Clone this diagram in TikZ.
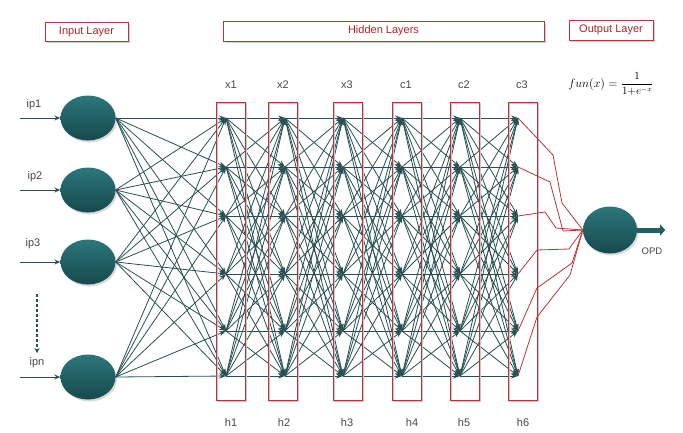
\documentclass[tikz,border=0pt]{standalone}
\usepackage{fontspec}
\setmainfont{Liberation Sans}
\usetikzlibrary{arrows.meta,shadows,shapes.geometric}
\definecolor{linecol}{RGB}{40,80,83}
\definecolor{boxred}{RGB}{190,52,52}
\definecolor{txtred}{RGB}{172,38,38}
\definecolor{lblcol}{RGB}{70,70,70}
\definecolor{tealtop}{RGB}{44,118,122}
\definecolor{tealbot}{RGB}{22,74,78}
\definecolor{tealmid}{RGB}{30,96,100}
\begin{document}
\begin{tikzpicture}[x=1pt,y=-1pt,
  conn/.style={draw=linecol, line width=0.8pt, -{Stealth[length=7pt,width=5pt]}},
  inarrow/.style={draw=linecol, line width=0.9pt, -{Stealth[length=6pt,width=5pt]}},
  outconn/.style={draw=boxred, line width=0.8pt, line join=round},
  neuron/.style={ellipse, minimum width=55pt, minimum height=45pt, inner sep=0pt,
    top color=tealtop, bottom color=tealbot,
    drop shadow={shadow xshift=1.5pt, shadow yshift=-2pt, opacity=0.3}},
  hdr/.style={draw=boxred, line width=1pt, fill=white, text=txtred, inner sep=0pt,
    font=\fontsize{11}{13}\selectfont,
    drop shadow={shadow xshift=1.5pt, shadow yshift=-1.5pt, opacity=0.35}},
  colbox/.style={draw=boxred, line width=1pt, inner sep=0pt, minimum width=29pt, minimum height=298pt},
  colshadow/.style={draw=black!22, line width=1pt, inner sep=0pt, minimum width=29pt, minimum height=298pt},
  lbl/.style={text=lblcol, inner sep=0pt, font=\fontsize{11}{13}\selectfont}
]
\useasboundingbox (0,0) rectangle (683,432);

% header boxes
\node[hdr, minimum width=83pt, minimum height=19pt] (hin) at (86.5,31.5) {Input Layer};
\node[hdr, minimum width=321pt, minimum height=20pt] (hhid) at (383.5,31) {Hidden Layers};
\node[hdr, minimum width=84pt, minimum height=20pt] (hout) at (611,30) {Output Layer};

% formula
\node[inner sep=0pt] (fx) at (611,84) {\fontsize{12.5}{14}\selectfont $fun(x)=\mbox{\fontsize{10.5}{12}\selectfont$\displaystyle\frac{1}{1{+}e^{-x}}$}$};

% hidden node points
\foreach \c/\xx in {1/226,2/285,3/343,4/402,5/460,6/518}{
  \foreach \r/\yy in {1/118,2/167,3/216,4/274,5/331,6/376}{
    \coordinate (h\c-\r) at (\xx,\yy);
  }
}

% input neurons
\node[neuron] (ip1) at (88,118) {};
\node[neuron] (ip2) at (88,190) {};
\node[neuron] (ip3) at (88,262) {};
\node[neuron] (ip4) at (88,377) {};

% output neuron
\node[neuron, minimum width=54pt, minimum height=47pt] (out) at (610,230) {};

% input arrows
\foreach \i in {1,2,3,4}{
  \path (ip\i.west) ++(-40,0) coordinate (s\i);
  \draw[inarrow] (s\i) -- (ip\i.west);
}
\node[lbl] (lip1) at (34,105) {ip1};
\node[lbl] (lip2) at (35,177) {ip2};
\node[lbl] (lip3) at (33,244) {ip3};
\node[lbl] (lipn) at (37,363) {ipn};
\coordinate (d1) at (37,294);
\coordinate (d2) at (37,353);
\draw[draw=linecol, line width=1.5pt, dash pattern=on 3pt off 2pt, -{Stealth[length=5pt,width=5pt]}] (d1) -- (d2);

% input -> first hidden layer
\foreach \i in {1,2,3,4}{
  \foreach \r in {1,...,6}{
    \draw[conn] (ip\i.east) -- (h1-\r);
  }
}
% hidden -> hidden
\foreach \c [evaluate=\c as \n using {int(\c+1)}] in {1,...,5}{
  \foreach \a in {1,...,6}{
    \foreach \b in {1,...,6}{
      \draw[conn] (h\c-\a) -- (h\n-\b);
    }
  }
}

% column boxes
\foreach \k/\cx in {1/231,2/283,3/347.5,4/406.5,5/464.5,6/522.5}{
  \node[colshadow] (cs\k) at (\cx+1.3,252.3) {};
  \node[colbox] (cb\k) at (\cx,251) {};
}

% column labels
\node[lbl] (tx1) at (231,85) {x1};
\node[lbl] (tx2) at (283,85) {x2};
\node[lbl] (tx3) at (347,85) {x3};
\node[lbl] (tc1) at (406,85) {c1};
\node[lbl] (tc2) at (464,85) {c2};
\node[lbl] (tc3) at (522,85) {c3};
\node[lbl] (bh1) at (231,423) {h1};
\node[lbl] (bh2) at (284,423) {h2};
\node[lbl] (bh3) at (347,423) {h3};
\node[lbl] (bh4) at (412,423) {h4};
\node[lbl] (bh5) at (464,423) {h5};
\node[lbl] (bh6) at (523,423) {h6};

% last hidden -> output (red)
\draw[outconn] (h6-1) -- (553,155) -- (562,203) -- (out.west);
\draw[outconn] (h6-2) -- (550,182) -- (563,231) -- (out.west);
\draw[outconn] (h6-3) -- (545,212) -- (556,228) -- (out.west);
\draw[outconn] (h6-4) -- (537,250) -- (569,249) -- (out.west);
\draw[outconn] (h6-5) -- (537,288) -- (572,263) -- (out.west);
\draw[outconn] (h6-6) -- (537,317) -- (570,275) -- (out.west);

% output arrow
\path (out.east) ++(28,0) coordinate (oend);
\draw[draw=tealmid, line width=5pt, -{Triangle[length=5pt,width=11pt]}] (out.east) -- (oend);
\node[text=lblcol, inner sep=0pt, font=\fontsize{9.5}{11}\selectfont] (opd) at (652,251) {OPD};
\end{tikzpicture}
\end{document}
